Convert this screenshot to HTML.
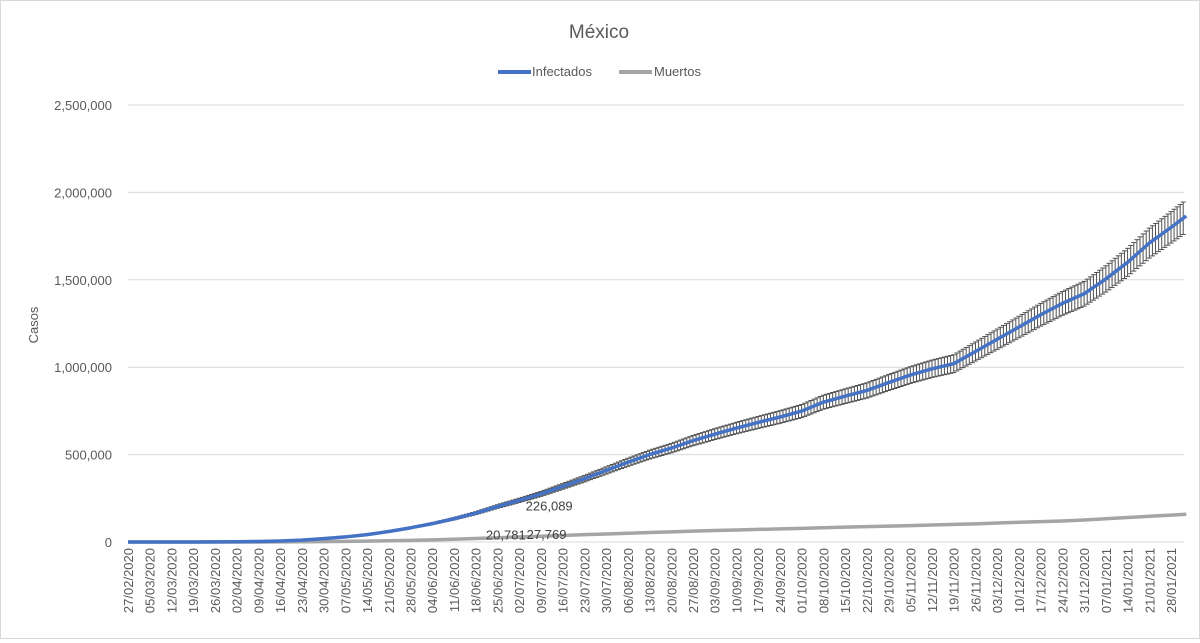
<!DOCTYPE html>
<html><head><meta charset="utf-8"><style>
body{margin:0;background:#fff;font-family:"Liberation Sans",sans-serif}
#wrap{width:1198px;height:637px;border:1px solid #d9d9d9;position:relative}
</style></head><body>
<div id="wrap">
<svg id="chart" width="1198" height="637" font-family="Liberation Sans, sans-serif"></svg>
</div>
<script>
const tickValues=[0,500000,1000000,1500000,2000000,2500000];
const dateLabels=["27/02/2020","05/03/2020","12/03/2020","19/03/2020","26/03/2020","02/04/2020","09/04/2020","16/04/2020","23/04/2020","30/04/2020","07/05/2020","14/05/2020","21/05/2020","28/05/2020","04/06/2020","11/06/2020","18/06/2020","25/06/2020","02/07/2020","09/07/2020","16/07/2020","23/07/2020","30/07/2020","06/08/2020","13/08/2020","20/08/2020","27/08/2020","03/09/2020","10/09/2020","17/09/2020","24/09/2020","01/10/2020","08/10/2020","15/10/2020","22/10/2020","29/10/2020","05/11/2020","12/11/2020","19/11/2020","26/11/2020","03/12/2020","10/12/2020","17/12/2020","24/12/2020","31/12/2020","07/01/2021","14/01/2021","21/01/2021","28/01/2021"];
const weekIdx=[0,1,2,3,4,5,6,7,8,9,10,11,12,13,14,15,16,17,18,19,20,21,22,23,24,25,26,27,28,29,30,31,32,33,34,35,36,37,38,39,40,41,42,43,44,45,46,47,48,48.7];
const infectados=[0,10,30,120,500,1500,3000,6000,11000,19000,29000,42000,60000,81000,105000,133000,165000,203000,238000,275000,318000,362000,409000,456000,500000,537000,580000,617000,652000,684000,715000,749000,800000,834000,867000,912000,955000,991000,1020000,1090000,1160000,1230000,1300000,1365000,1420000,1505000,1600000,1710000,1800000,1865000];
const muertos=[0,0,0,2,20,100,300,800,1400,2000,3300,5000,7000,9000,12500,16000,20000,24000,28500,33000,37500,42000,46000,50000,54000,58000,62000,66000,69000,72000,75000,78000,81500,85000,88000,91000,94000,97000,100500,104000,108500,113000,116500,120000,126000,133000,140000,147000,154000,159000];
const annotations=[{w:18.3,v:226089,text:"226,089",dx:0,dy:8},{w:17.3,v:20781,text:"20,781",dx:-18,dy:1},{w:18.3,v:27769,text:"27,769",dx:1,dy:2}];

const svg=document.getElementById('chart');
const NS='http://www.w3.org/2000/svg';
const X0=127,X1=1183,Y0=541,YMAX=2500000,YTOP=104,WK=21.73;
const x=w=>X0+w*WK;
const y=v=>Y0-(v/YMAX)*(Y0-YTOP);
function mk(tag,attrs,parent){const e=document.createElementNS(NS,tag);for(const k in attrs)e.setAttribute(k,attrs[k]);(parent||svg).appendChild(e);return e;}

const t=mk('text',{x:598,y:37,'text-anchor':'middle','font-size':19,fill:'#595959'});t.textContent='México';



const lg=mk('g',{});


const l1=mk('g',{},lg);


mk('line',{x1:497,y1:71,x2:530,y2:71,stroke:'#4472c4','stroke-width':4},l1);
let tt=mk('text',{x:531,y:75,'font-size':13,fill:'#595959'},l1);tt.textContent='Infectados';
const l2=mk('g',{},lg);


mk('line',{x1:618,y1:71,x2:651,y2:71,stroke:'#a5a5a5','stroke-width':4},l2);
tt=mk('text',{x:653,y:75,'font-size':13,fill:'#595959'},l2);tt.textContent='Muertos';

tickValues.forEach(v=>{
  if(v>0){const g=mk('line',{x1:X0,x2:X1,y1:y(v),y2:y(v),stroke:'#d9d9d9','stroke-width':1});
  
  }
  const lt=mk('text',{x:111,y:y(v)+5,'text-anchor':'end','font-size':13,fill:'#595959'});
  lt.textContent=v.toLocaleString('en-US');
  
  
});
const yt=mk('text',{x:0,y:0,'font-size':13,fill:'#595959','text-anchor':'middle',transform:'translate(37,324) rotate(-90)'});
yt.textContent='Casos';



const ax=mk('line',{x1:X0,x2:X1,y1:Y0,y2:Y0,stroke:'#d9d9d9'});


dateLabels.forEach((d,i)=>{
  const xl=mk('text',{x:0,y:0,'font-size':13,fill:'#595959','text-anchor':'end',transform:`translate(${x(i)+5},547) rotate(-90)`});
  xl.textContent=d;
  
  
});

// error bars drawn at daily positions along the rendered line (5% of value)
const eb=mk('g',{stroke:'#505050','stroke-width':1});


for(let i=0;i<weekIdx.length-1;i++){
  const w0=weekIdx[i],w1=weekIdx[i+1],v0=infectados[i],v1=infectados[i+1];
  const steps=Math.max(1,Math.round((w1-w0)*7));
  for(let s=0;s<steps;s++){
    const f=s/steps,v=v0+(v1-v0)*f,w=w0+(w1-w0)*f;
    if(v<40000)continue;
    const e=v*0.05,xx=x(w);
    mk('line',{x1:xx,x2:xx,y1:y(v+e),y2:y(v-e)},eb);
    mk('line',{x1:xx-2.5,x2:xx+2.5,y1:y(v+e),y2:y(v+e)},eb);
    mk('line',{x1:xx-2.5,x2:xx+2.5,y1:y(v-e),y2:y(v-e)},eb);
  }
}

function series(vals,color,name){
  const p=mk('polyline',{points:vals.map((v,i)=>x(weekIdx[i])+','+y(v)).join(' '),fill:'none',stroke:color,'stroke-width':3.5,'stroke-linejoin':'round'});
  
  
}
series(muertos,'#a5a5a5','line-muertos');
series(infectados,'#4472c4','line-infectados');

annotations.forEach(a=>{
  const at=mk('text',{x:x(a.w)+a.dx,y:y(a.v)+a.dy,'font-size':13,fill:'#404040'});
  at.textContent=a.text;
  
  
});
</script>
</body></html>
